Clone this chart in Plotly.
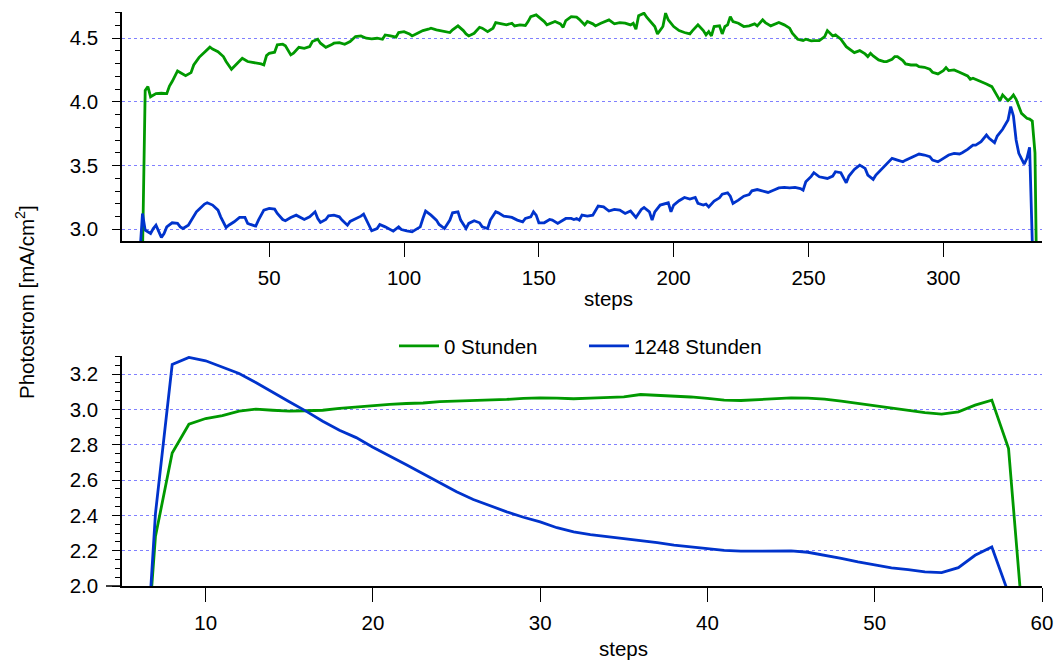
import plotly.graph_objects as go

# ---------------- data: top panel ----------------
top_green_steps = [2, 3, 4, 5, 6, 7, 8, 10, 12, 13, 14, 16, 17, 19, 21, 22, 24, 26, 28, 29, 31, 33, 34, 36, 38, 40,
                   42, 44, 45, 47, 48, 49, 50, 52, 53, 55, 56, 58, 59, 61, 63, 65, 66, 68, 69, 71, 73, 74, 76, 78, 80,
                   81, 82, 84, 86, 88, 90, 92, 93, 95, 97, 98, 100, 102, 103, 105, 107, 109, 110, 112, 114, 115, 117,
                   118, 120, 122, 123, 124, 126, 128, 129, 131, 133, 134, 136, 138, 140, 141, 143, 145, 146, 147, 149,
                   150, 152, 153, 155, 156, 158, 159, 160, 162, 164, 165, 167, 168, 170, 171, 173, 176, 178, 180, 182,
                   184, 185, 186, 187, 189, 190, 192, 193, 194, 196, 197, 198, 200, 202, 204, 206, 207, 209, 211, 212,
                   213, 214, 215, 217, 218, 219, 220, 221, 222, 224, 226, 228, 230, 231, 233, 234, 236, 238, 239, 241,
                   243, 244, 246, 248, 249, 251, 252, 254, 256, 257, 259, 260, 262, 264, 266, 267, 269, 271, 272, 273,
                   274, 276, 278, 279, 281, 282, 283, 285, 286, 288, 290, 291, 293, 295, 296, 298, 300, 301, 302, 304,
                   306, 307, 309, 310, 311, 313, 315, 316, 318, 319, 320, 321, 322, 324, 325, 326, 327, 328, 329, 331,
                   332, 333, 334, 335]
top_green_vals = [1.0, 2.8, 4.09, 4.12, 4.04, 4.05, 4.065, 4.068, 4.065, 4.125, 4.16, 4.243, 4.23, 4.206, 4.23, 4.29,
                  4.35, 4.39, 4.43, 4.415, 4.395, 4.356, 4.317, 4.256, 4.303, 4.343, 4.317, 4.311, 4.303, 4.298, 4.29,
                  4.364, 4.382, 4.39, 4.448, 4.453, 4.44, 4.369, 4.382, 4.429, 4.421, 4.434, 4.474, 4.492, 4.461, 4.429,
                  4.448, 4.461, 4.466, 4.453, 4.474, 4.49, 4.513, 4.518, 4.50, 4.495, 4.50, 4.492, 4.526, 4.518, 4.508,
                  4.545, 4.552, 4.534, 4.518, 4.539, 4.56, 4.571, 4.579, 4.566, 4.56, 4.552, 4.545, 4.566, 4.597, 4.56,
                  4.534, 4.518, 4.539, 4.586, 4.579, 4.552, 4.579, 4.623, 4.613, 4.605, 4.618, 4.597, 4.605, 4.60,
                  4.631, 4.67, 4.683, 4.665, 4.631, 4.605, 4.623, 4.631, 4.613, 4.586, 4.639, 4.67, 4.665, 4.649,
                  4.605, 4.631, 4.613, 4.597, 4.618, 4.644, 4.613, 4.623, 4.618, 4.605, 4.618, 4.571, 4.676, 4.697,
                  4.665, 4.618, 4.592, 4.534, 4.592, 4.697, 4.644, 4.592, 4.56, 4.545, 4.534, 4.56, 4.605, 4.56, 4.526,
                  4.552, 4.518, 4.592, 4.597, 4.534, 4.592, 4.605, 4.67, 4.631, 4.618, 4.592, 4.597, 4.613, 4.597,
                  4.644, 4.623, 4.597, 4.613, 4.623, 4.605, 4.579, 4.539, 4.492, 4.482, 4.492, 4.479, 4.482, 4.482,
                  4.513, 4.56, 4.518, 4.526, 4.492, 4.434, 4.40, 4.387, 4.403, 4.377, 4.356, 4.382, 4.361, 4.33, 4.317,
                  4.317, 4.335, 4.356, 4.356, 4.325, 4.298, 4.29, 4.29, 4.277, 4.272, 4.256, 4.233, 4.22, 4.246, 4.269,
                  4.246, 4.251, 4.233, 4.225, 4.204, 4.178, 4.186, 4.168, 4.152, 4.141, 4.12, 4.081, 4.041, 4.01,
                  4.055, 4.01, 4.028, 4.055, 4.02, 3.97, 3.91, 3.871, 3.865, 3.85, 3.6, 2.0]

top_blue_steps = [1, 2, 3, 4, 6, 7, 8, 9, 10, 11, 12, 14, 16, 17, 18, 20, 21, 23, 24, 26, 27, 29, 31, 32, 34, 35, 37,
                  39, 41, 42, 43, 45, 46, 48, 50, 52, 53, 55, 56, 58, 60, 61, 63, 65, 67, 68, 69, 71, 72, 74, 76, 77,
                  79, 80, 82, 84, 85, 87, 88, 90, 91, 93, 94, 96, 98, 99, 101, 103, 104, 106, 107, 108, 110, 112, 113,
                  115, 117, 118, 120, 121, 123, 124, 126, 128, 129, 131, 132, 134, 135, 137, 139, 140, 142, 144, 145,
                  147, 148, 149, 150, 152, 154, 155, 157, 158, 160, 162, 163, 164, 165, 166, 168, 170, 172, 174, 176,
                  178, 180, 182, 184, 186, 188, 189, 191, 192, 193, 195, 196, 198, 199, 200, 202, 204, 206, 208, 209,
                  211, 212, 213, 215, 217, 218, 220, 221, 222, 224, 226, 228, 229, 231, 233, 235, 237, 239, 241, 243,
                  245, 247, 248, 249, 251, 252, 254, 256, 257, 259, 260, 262, 264, 265, 267, 269, 271, 272, 274, 275,
                  277, 278, 279, 281, 283, 285, 286, 288, 290, 291, 293, 295, 296, 298, 299, 301, 302, 304, 306, 307,
                  309, 311, 312, 314, 316, 317, 319, 320, 322, 324, 325, 326, 327, 328, 330, 331, 332, 333, 334]
top_blue_vals = [1.0, 2.8, 3.124, 2.993, 2.967, 3.006, 3.032, 2.98, 2.936, 2.967, 3.019, 3.051, 3.046, 3.019, 3.006,
                 3.032, 3.067, 3.137, 3.158, 3.198, 3.208, 3.19, 3.15, 3.098, 3.014, 3.032, 3.059, 3.093, 3.093, 3.046,
                 3.038, 3.025, 3.072, 3.15, 3.164, 3.158, 3.124, 3.077, 3.067, 3.093, 3.111, 3.098, 3.077, 3.098, 3.137,
                 3.085, 3.054, 3.077, 3.106, 3.111, 3.098, 3.072, 3.032, 3.062, 3.08, 3.103, 3.119, 3.032, 2.988,
                 3.006, 3.038, 3.019, 3.006, 2.985, 3.019, 2.998, 2.988, 2.98, 2.993, 3.019, 3.085, 3.143, 3.111,
                 3.072, 3.038, 3.006, 3.072, 3.129, 3.137, 3.072, 3.006, 3.046, 3.067, 3.051, 3.019, 3.006, 3.072,
                 3.137, 3.129, 3.103, 3.098, 3.093, 3.072, 3.059, 3.085, 3.098, 3.137, 3.111, 3.051, 3.051, 3.077,
                 3.072, 3.046, 3.059, 3.085, 3.085, 3.077, 3.085, 3.072, 3.111, 3.103, 3.111, 3.182, 3.176, 3.143,
                 3.156, 3.15, 3.124, 3.143, 3.093, 3.156, 3.171, 3.137, 3.072, 3.137, 3.19, 3.195, 3.208, 3.137, 3.19,
                 3.224, 3.25, 3.237, 3.25, 3.203, 3.19, 3.198, 3.176, 3.221, 3.247, 3.276, 3.286, 3.26, 3.203, 3.229,
                 3.26, 3.273, 3.302, 3.312, 3.302, 3.289, 3.307, 3.325, 3.329, 3.325, 3.329, 3.32, 3.307, 3.373,
                 3.415, 3.444, 3.412, 3.407, 3.399, 3.418, 3.452, 3.444, 3.365, 3.418, 3.47, 3.504, 3.478, 3.426,
                 3.392, 3.426, 3.47, 3.496, 3.517, 3.557, 3.543, 3.53, 3.543, 3.564, 3.583, 3.591, 3.583, 3.57, 3.543,
                 3.53, 3.543, 3.57, 3.583, 3.596, 3.591, 3.601, 3.627, 3.661, 3.661, 3.688, 3.74, 3.714, 3.68, 3.732,
                 3.785, 3.858, 3.963, 3.89, 3.701, 3.596, 3.512, 3.557, 3.643, 2.9, 1.0]

# ---------------- data: bottom panel ----------------
bottom_steps = list(range(6, 60))
bottom_green_vals = [1.0, 2.28, 2.753, 2.916, 2.948, 2.965, 2.99, 3.001, 2.995, 2.99, 2.992, 2.995, 3.005, 3.014, 3.02,
                     3.028, 3.033, 3.036, 3.044, 3.046, 3.048, 3.052, 3.056, 3.062, 3.065, 3.063, 3.06, 3.064, 3.067,
                     3.071, 3.084, 3.08, 3.077, 3.07, 3.062, 3.052, 3.05, 3.056, 3.06, 3.065, 3.063, 3.058, 3.046,
                     3.033, 3.02, 3.009, 2.995, 2.982, 2.973, 2.986, 3.024, 3.052, 2.778, 1.63]
bottom_blue_vals = [0.89, 2.41, 3.254, 3.294, 3.275, 3.241, 3.203, 3.152, 3.096, 3.043, 2.99, 2.933, 2.882, 2.84,
                    2.786, 2.738, 2.687, 2.635, 2.584, 2.533, 2.49, 2.453, 2.42, 2.389, 2.363, 2.33, 2.306, 2.291, 2.28,
                    2.27, 2.259, 2.246, 2.232, 2.221, 2.212, 2.202, 2.197, 2.197, 2.199, 2.199, 2.191, 2.176, 2.157,
                    2.136, 2.117, 2.102, 2.093, 2.08, 2.076, 2.104, 2.174, 2.221, 1.958, 1.5]

series_names = ["0 Stunden", "1248 Stunden"]
top_xticks = [50, 100, 150, 200, 250, 300]
bottom_xticks = [10, 20, 30, 40, 50, 60]

GREEN = "#009900"
BLUE = "#0033cc"
FONT = "Liberation Sans, Arial, Helvetica, sans-serif"
FS = 20.5
LW = 2.8
W, H = 1057, 660


def px(x):
    return x / W


def py(y):
    return 1 - y / H


fig = go.Figure()
fig.add_trace(go.Scatter(x=top_green_steps, y=top_green_vals, mode="lines", line=dict(color=GREEN, width=LW),
                         showlegend=False, xaxis="x", yaxis="y"))
fig.add_trace(go.Scatter(x=top_blue_steps, y=top_blue_vals, mode="lines", line=dict(color=BLUE, width=LW),
                         showlegend=False, xaxis="x", yaxis="y"))
fig.add_trace(go.Scatter(x=bottom_steps, y=bottom_green_vals, mode="lines", line=dict(color=GREEN, width=LW),
                         name=series_names[0], legend="legend", xaxis="x2", yaxis="y2"))
fig.add_trace(go.Scatter(x=bottom_steps, y=bottom_blue_vals, mode="lines", line=dict(color=BLUE, width=LW),
                         name=series_names[1], legend="legend2", xaxis="x2", yaxis="y2"))

xdom = [px(122), px(1042)]
axis_common = dict(showline=True, linecolor="black", linewidth=1.5, ticks="outside", tickcolor="black",
                   tickwidth=1.3, tickfont=dict(family=FONT, size=FS, color="black"), zeroline=False,
                   automargin=False)
legend_common = dict(xanchor="left", y=py(346), yanchor="middle", orientation="h", itemwidth=40,
                     bgcolor="rgba(0,0,0,0)", borderwidth=0, font=dict(family=FONT, size=FS, color="black"))

fig.update_layout(
    template="none",
    width=W, height=H, margin=dict(l=0, r=0, t=0, b=0, pad=0, autoexpand=False),
    paper_bgcolor="white", plot_bgcolor="white",
    font=dict(family=FONT, size=FS, color="black"),
    xaxis=dict(domain=xdom, anchor="y", range=[-4.6, 336.6], tickvals=top_xticks, ticklen=14,
               showgrid=False, ticklabelstandoff=4, **axis_common),
    yaxis=dict(domain=[py(241), py(12)], anchor="x", range=[2.908, 4.706], dtick=0.5, tick0=3.0,
               tickformat=".1f", ticklen=8, showgrid=True, gridcolor="#8080ff", gridwidth=1, griddash="dot",
               ticklabelstandoff=10,
               minor=dict(dtick=0.1, tick0=3.0, ticks="outside", ticklen=5, tickcolor="black", showgrid=False),
               **axis_common),
    xaxis2=dict(domain=xdom, anchor="y2", range=[5.0, 60.0], tickvals=bottom_xticks, ticklen=14,
                showgrid=False, ticklabelstandoff=4, **axis_common),
    yaxis2=dict(domain=[py(586), py(356)], anchor="x2", range=[2.0, 3.302], dtick=0.2, tick0=2.0,
                tickformat=".1f", ticklen=8, showgrid=True, gridcolor="#8080ff", gridwidth=1, griddash="dot",
                ticklabelstandoff=10,
                minor=dict(dtick=0.05, tick0=2.0, ticks="outside", ticklen=5, tickcolor="black", showgrid=False),
                **axis_common),
    legend=dict(x=px(394), **legend_common),
    legend2=dict(x=px(584), **legend_common),
    shapes=[
        # bottom x-axis line continues a little left of the y axis
        dict(type="line", xref="paper", yref="paper", x0=px(106), x1=px(122), y0=py(586), y1=py(586),
             line=dict(color="black", width=1.5)),
    ],
    annotations=[
        dict(text="steps", x=px(608), y=py(298), xref="paper", yref="paper", showarrow=False,
             xanchor="center", yanchor="middle", font=dict(family=FONT, size=FS, color="black")),
        dict(text="steps", x=px(623), y=py(648), xref="paper", yref="paper", showarrow=False,
             xanchor="center", yanchor="middle", font=dict(family=FONT, size=FS, color="black")),
        dict(text="Photostrom [mA/cm<sup>2</sup>]", x=px(25), y=py(302), xref="paper", yref="paper",
             showarrow=False, textangle=-90, xanchor="center", yanchor="middle",
             font=dict(family=FONT, size=FS, color="black")),
    ],
)

# remove the default 8px page margin so the 1057x660 figure fills the window exactly
fig.write_html("out.html", config={"displayModeBar": False},
               post_script="document.body.style.margin='0';document.body.style.overflow='hidden';")
